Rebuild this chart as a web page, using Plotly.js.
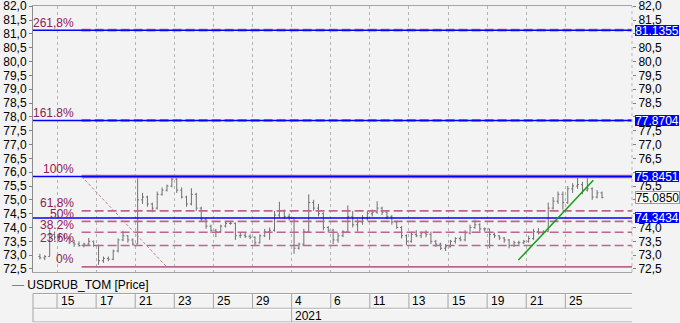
<!DOCTYPE html>
<html><head><meta charset="utf-8">
<script src="https://cdn.plot.ly/plotly-3.0.1.min.js"></script>
<style>html,body{margin:0;padding:0;background:#f3f3f3;}#chart{width:680px;height:323px;}</style>
</head><body><div id="chart"></div>
<script>
// ---------- data ----------
const tradingDays = ['2020-12-14','2020-12-15','2020-12-16','2020-12-17','2020-12-18','2020-12-21','2020-12-22','2020-12-23','2020-12-24','2020-12-25','2020-12-28','2020-12-29','2020-12-30','2021-01-04','2021-01-05','2021-01-06','2021-01-08','2021-01-11','2021-01-12','2021-01-13','2021-01-14','2021-01-15','2021-01-18','2021-01-19','2021-01-20','2021-01-21','2021-01-22','2021-01-25','2021-01-26','2021-01-27'];
const tickDates = ['2020-12-15','2020-12-17','2020-12-21','2020-12-23','2020-12-25','2020-12-29','2021-01-04','2021-01-06','2021-01-11','2021-01-13','2021-01-15','2021-01-19','2021-01-21','2021-01-25'];
const yTickValues = [72.5,73.0,73.5,74.0,74.5,75.0,75.5,76.0,76.5,77.0,77.5,78.0,78.5,79.0,79.5,80.0,80.5,81.0,81.5,82.0];
const yTickLabels = ['72,5','73,0','73,5','74,0','74,5','75,0','75,5','76,0','76,5','77,0','77,5','78,0','78,5','79,0','79,5','80,0','80,5','81,0','81,5','82,0'];
// right-axis labels that sit behind the value boxes in the reference
const rightHidden = ['74,5','75,0','76,0','78,0','81,0'];
const barsPerDay = 4;
const barOpen = [
72.95,72.9,72.95,73.75, 73.65,73.7,73.6,73.45, 73.4,73.35,73.4,73.5, 73.35,72.8,72.88,72.85,
73.15,73.55,73.7,73.55, 73.4,75.0,75.1,74.85, 74.7,75.2,75.35,75.5, 75.75,75.35,75.1,74.85,
75.2,74.7,74.3,74.05, 73.9,73.85,74.05,74.15, 74.15,73.7,73.72,73.68, 73.65,73.45,73.7,73.85,
73.9,74.45,74.6,74.4, 74.35,73.25,73.4,73.85, 74.9,74.7,74.5,74.0, 73.9,73.55,73.7,73.85,
74.4,74.1,74.2,74.35, 74.5,74.55,74.7,74.55, 74.4,74.2,74.0,73.7, 73.5,73.75,73.7,73.8,
73.75,73.5,73.4,73.25, 73.3,73.5,73.6,73.55, 73.8,74.0,74.1,73.95, 73.95,73.75,73.7,73.62,
73.55,73.35,73.45,73.45, 73.5,73.6,73.85,73.8, 73.85,74.7,74.95,75.2, 74.9,75.4,75.5,75.55,
75.35,75.4,75.1,75.25];
const barHigh = [
73.05,73.0,73.93,73.85, 73.8,73.78,73.68,73.55, 73.5,73.45,73.62,73.52, 73.38,72.95,72.95,73.2,
73.6,73.88,73.72,73.6, 75.78,75.25,75.15,74.9, 75.3,75.45,75.55,75.87, 75.8,75.45,75.15,75.42,
75.25,74.75,74.35,74.1, 73.95,74.1,74.22,74.22, 74.18,73.8,73.8,73.75, 73.68,73.75,73.95,74.0,
74.6,74.93,74.65,74.5, 74.35,73.45,73.95,75.2, 75.0,74.85,74.55,74.05, 73.95,73.8,73.9,74.8,
74.6,74.3,74.45,74.6, 74.65,74.95,74.75,74.6, 74.45,74.25,74.05,73.75, 73.85,73.9,73.85,73.9,
73.85,73.55,73.45,73.4, 73.55,73.65,73.68,73.9, 74.1,74.28,74.15,74.0, 73.95,73.82,73.72,73.65,
73.58,73.52,73.52,73.55, 73.7,73.95,73.98,73.9, 74.9,75.1,75.3,75.3, 75.5,75.6,75.86,75.65,
75.78,75.45,75.35,75.3];
const barLow = [
72.85,72.82,72.95,73.55, 73.55,73.52,73.4,73.3, 73.3,73.28,73.35,73.3, 72.65,72.72,72.78,72.82,
73.1,73.5,73.45,73.35, 73.4,74.85,74.75,74.55, 74.65,75.15,75.3,75.45, 75.25,75.05,74.75,74.8,
74.6,74.2,73.95,73.8, 73.65,73.8,74.0,74.1, 73.55,73.62,73.62,73.58, 73.37,73.42,73.65,73.55,
73.85,74.35,74.3,74.25, 73.05,73.2,73.35,73.8, 74.6,74.4,73.9,73.82, 73.4,73.45,73.65,73.8,
74.0,73.85,74.1,74.25, 74.4,74.5,74.45,74.3, 74.1,73.95,73.6,73.37, 73.45,73.65,73.62,73.65,
73.4,73.3,73.18,73.15, 73.28,73.42,73.5,73.5, 73.75,73.95,73.85,73.85, 73.25,73.62,73.55,73.45,
73.25,73.3,73.38,73.4, 73.45,73.55,73.75,73.75, 73.85,74.65,74.85,74.65, 74.85,75.25,75.4,75.2,
75.3,75.0,75.05,75.05];
const barClose = [
72.9,72.95,73.75,73.65, 73.7,73.6,73.45,73.4, 73.35,73.4,73.5,73.35, 72.8,72.88,72.85,73.15,
73.55,73.7,73.55,73.4, 75.0,75.1,74.85,74.7, 75.2,75.35,75.5,75.75, 75.35,75.1,74.85,75.2,
74.7,74.3,74.05,73.9, 73.85,74.05,74.15,74.15, 73.7,73.72,73.68,73.65, 73.45,73.7,73.85,73.9,
74.45,74.6,74.4,74.35, 73.25,73.4,73.85,74.9, 74.7,74.5,74.0,73.9, 73.55,73.7,73.85,74.4,
74.1,74.2,74.35,74.5, 74.55,74.7,74.55,74.4, 74.2,74.0,73.7,73.5, 73.75,73.7,73.8,73.75,
73.5,73.4,73.25,73.3, 73.5,73.6,73.55,73.8, 74.0,74.1,73.95,73.95, 73.75,73.7,73.62,73.55,
73.35,73.45,73.45,73.5, 73.6,73.85,73.8,73.85, 74.7,74.95,75.2,74.9, 75.4,75.5,75.55,75.35,
75.4,75.1,75.25,75.085];
const lastPrice = 75.0850;
const lastPriceLabel = '75,0850';
const levelValues = [81.1355, 77.8704, 75.8451, 74.3434];
const levelLabels = ['81.1355','77.8704','75.8451','74.3434'];
const fibLabels = ['0%','23.6%','38.2%','50%','61,8%','100%','161.8%','261,8%'];
const fibValues = [72.575, 73.35, 73.83, 74.22, 74.60, 75.8451, 77.8704, 81.1355];
const fibSolid = [true,false,false,false,false,true,false,false];
const fibAnchorT = [2.26, 6.61];       // trading-day index of the two anchor points
const fibAnchorV = [75.8451, 72.575];
const trendT = [24.6, 28.43];
const trendV = [72.82, 75.71];
const seriesName = 'USDRUB_TOM [Price]';

// ---------- layout geometry ----------
const W = 680, H = 323, ML = 33, MR = 48, MT = 6, MB = 51;
const PW = W - ML - MR, PH = H - MT - MB;
const xRange = [-0.228, 30.41];
const yRange = [72.39, 82.01];
const pxX = px => (px - ML) / PW;           // paper x
const pxY = py => (MT + PH - py) / PH;       // paper y

const tIndex = d => tradingDays.indexOf(d);
const barX = barClose.map((_, i) => Math.floor(i / barsPerDay) + ((i % barsPerDay) + 0.5) / barsPerDay);
const tickT = tickDates.map(tIndex);
const tickText = tickDates.map(d => String(parseInt(d.slice(8), 10)));
const yearIdx = tradingDays.findIndex(d => d.startsWith('2021'));

const font = "'Liberation Sans', Arial, sans-serif";
const pinkLine = 'rgb(190,100,145)';
const labelColor = 'rgb(142,32,86)';
const blue = 'rgb(0,0,255)';
const greyLine = '#a4a4a4';

const traces = [
  {type:'ohlc', x: barX, open: barOpen, high: barHigh, low: barLow, close: barClose,
   increasing:{line:{color:'#707070', width:1}}, decreasing:{line:{color:'#707070', width:1}},
   tickwidth:0.3, hoverinfo:'skip', showlegend:false},
  {type:'scatter', x:[barX[0]], y:[null], yaxis:'y2', hoverinfo:'skip', showlegend:false}
];

const shapes = [];
const annotations = [];

// fib levels (under blue lines)
fibValues.forEach((v, i) => {
  shapes.push({type:'line', xref:'x', yref:'y', x0: fibAnchorT[0], x1: xRange[1], y0: v, y1: v,
    line:{color: pinkLine, width: (i === 5 ? 3.5 : (i > 5 ? 2.8 : 1.6)), dash: fibSolid[i] ? 'solid' : '9px,4px'}, layer:'above'});
  annotations.push({xref:'x', yref:'y', x: fibAnchorT[0], y: v, xanchor:'right', yanchor:'middle',
    xshift:-6, yshift:7.5, text: fibLabels[i], showarrow:false, font:{family:font, size:12, color:labelColor}});
});
// fib diagonal
shapes.push({type:'line', xref:'x', yref:'y', x0: fibAnchorT[0], x1: fibAnchorT[1], y0: fibAnchorV[0], y1: fibAnchorV[1],
  line:{color:'rgb(200,120,160)', width:1, dash:'3px,2px'}, layer:'above'});
// blue horizontal levels
levelValues.forEach(v => {
  shapes.push({type:'line', xref:'paper', yref:'y', x0:0, x1:1, y0:v, y1:v, line:{color:blue, width:1.6}, layer:'above'});
});
// green trend line
shapes.push({type:'line', xref:'x', yref:'y', x0: trendT[0], x1: trendT[1], y0: trendV[0], y1: trendV[1],
  line:{color:'rgb(20,160,20)', width:1.5}, layer:'above'});
// right dotted border
shapes.push({type:'line', xref:'paper', yref:'paper', x0:1, x1:1, y0:0, y1:1, line:{color:'#b8b8b8', width:1, dash:'dot'}, layer:'above'});

// right-side value boxes
levelValues.forEach((v, i) => {
  annotations.push({xref:'paper', yref:'y', x: pxX(635), y: v, xanchor:'left', yanchor:'middle', text: levelLabels[i],
    width:44, height:11, align:'center', valign:'middle', bgcolor: blue, borderpad:0, borderwidth:0,
    showarrow:false, font:{family:font, size:12, color:'#ffffff'}});
});
annotations.push({xref:'paper', yref:'y', x: pxX(634.5), y: lastPrice, xanchor:'left', yanchor:'middle', text: lastPriceLabel,
  width:43, height:11, align:'center', valign:'middle', bgcolor:'#ffffff', bordercolor:'#9a9a9a', borderwidth:1, borderpad:0,
  showarrow:false, font:{family:font, size:12, color:'#000000'}});

// legend line
annotations.push({xref:'paper', yref:'paper', x: pxX(10), y: pxY(285), xanchor:'left', yanchor:'middle',
  text:'<span style="color:#808080">—</span> ' + seriesName, showarrow:false, font:{family:font, size:12, color:'#000'}});

// date bar
const rowTop = pxY(293.5), rowMid = pxY(308.3), rowBot = pxY(322);
[rowTop, rowMid, rowBot].forEach(y => {
  shapes.push({type:'line', xref:'paper', yref:'paper', x0:0, x1:1, y0:y, y1:y, line:{color:greyLine, width:1}});
  shapes.push({type:'line', xref:'paper', yref:'paper', x0:0, x1:1, y0:y - 1/PH, y1:y - 1/PH, line:{color:'#ffffff', width:1}});
});
shapes.push({type:'line', xref:'paper', yref:'paper', x0:0, x1:0, y0:rowTop, y1:rowBot, line:{color:greyLine, width:1}});
tickT.forEach((t, i) => {
  shapes.push({type:'line', xref:'x', yref:'paper', x0:t, x1:t, y0:rowTop, y1:rowMid, line:{color:greyLine, width:1}});
  annotations.push({xref:'x', yref:'paper', x:t, y: pxY(301), xanchor:'left', yanchor:'middle', xshift:1.5,
    text: tickText[i], showarrow:false, font:{family:font, size:12, color:'#000'}});
});
shapes.push({type:'line', xref:'x', yref:'paper', x0:yearIdx, x1:yearIdx, y0:rowMid, y1:rowBot, line:{color:greyLine, width:1}});
annotations.push({xref:'x', yref:'paper', x:yearIdx, y: pxY(315.5), xanchor:'left', yanchor:'middle', xshift:1.5,
  text: tradingDays[yearIdx].slice(0,4), showarrow:false, font:{family:font, size:12, color:'#000'}});

const yAxisCommon = {range: yRange, tickmode:'array', tickvals: yTickValues, ticks:'outside', ticklen:3,
  ticklabeloverflow:'allow', tickcolor:'#808080', showgrid:false, zeroline:false,
  tickfont:{family:font, size:12, color:'#000'}, fixedrange:true};

const layout = {
  width: W, height: H, margin:{l:ML, r:MR, t:MT, b:MB, pad:0},
  paper_bgcolor:'#f3f3f3', plot_bgcolor:'#f3f3f3',
  showlegend:false,
  xaxis:{type:'linear', range:xRange, tickvals:tickT, showticklabels:false, ticks:'', showgrid:true,
    gridcolor:'#b4b4b4', griddash:'dot', gridwidth:1, zeroline:false, showline:true, mirror:true,
    linecolor:greyLine, linewidth:1, rangeslider:{visible:false}, fixedrange:true},
  yaxis: Object.assign({}, yAxisCommon, {side:'left', ticktext: yTickLabels, showline:true, linecolor:'#8c8c8c', linewidth:1}),
  yaxis2: Object.assign({}, yAxisCommon, {side:'right', overlaying:'y', showline:false,
    ticktext: yTickLabels.map(s => rightHidden.includes(s) ? '' : s)}),
  shapes: shapes,
  annotations: annotations
};

Plotly.newPlot('chart', traces, layout, {displayModeBar:false, staticPlot:true});
</script></body></html>
